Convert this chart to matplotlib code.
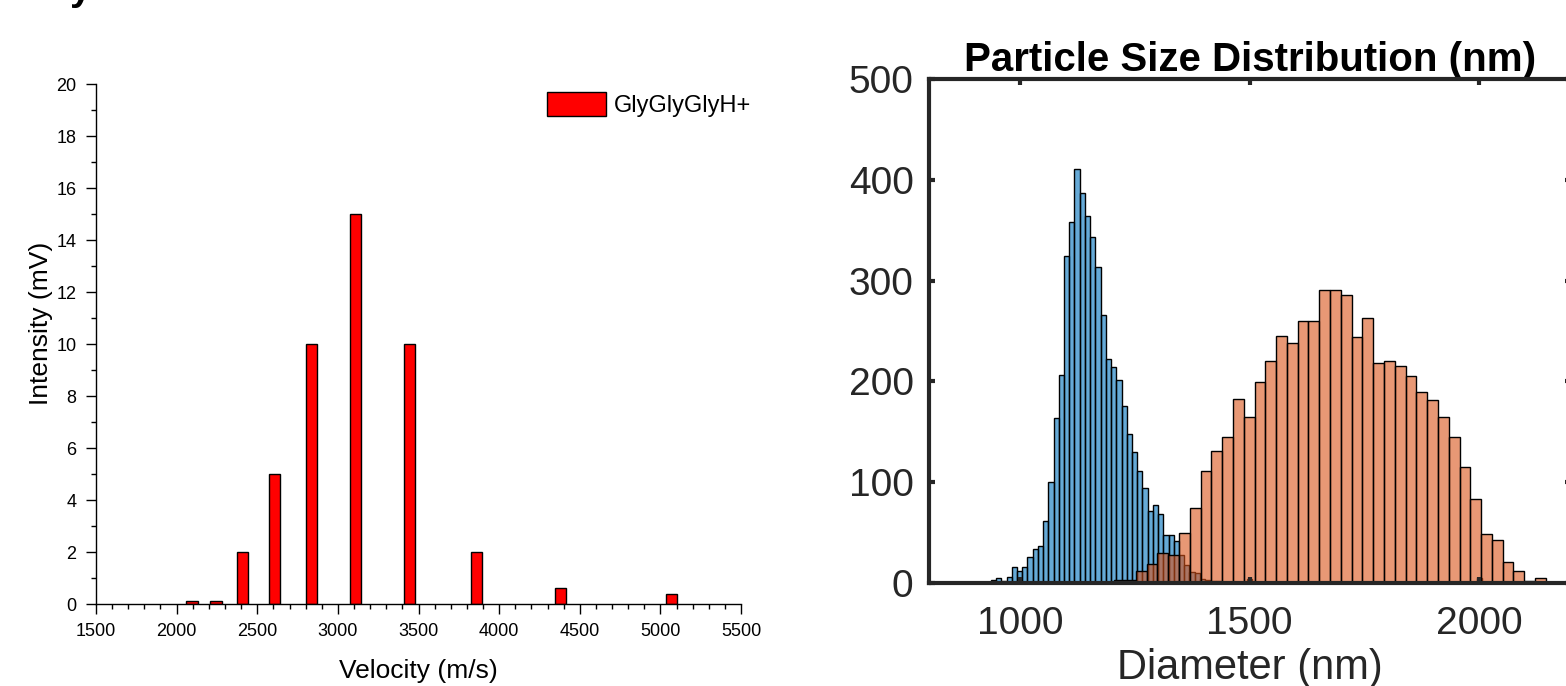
import matplotlib.pyplot as plt
import numpy as np
from matplotlib.ticker import MultipleLocator

# left panel: velocity bars
velocity = [2095, 2245, 2410, 2605, 2835, 3110, 3445, 3860, 4380, 5070]
intensity = [0.1, 0.1, 2, 5, 10, 15, 10, 2, 0.6, 0.4]
series_label = 'GlyGlyGlyH+'

# right panel: particle size histograms (counts per bin)
blue_start, blue_width = 867.0, 11.4
blue_counts = [1, 0, 1, 0, 1, 1, 3, 5, 2, 6,
               16, 12, 16, 26, 33, 36, 61, 100, 164, 206,
               325, 358, 411, 387, 364, 343, 314, 266, 222, 214,
               201, 176, 148, 130, 111, 94, 71, 77, 68, 47,
               47, 41, 28, 18, 11, 10, 4, 3, 2, 2,
               1, 1, 1, 1, 0, 4, 1, 0, 1, 0,
               1, 0, 0, 1, 0, 0, 1, 0, 0, 0,
               1, 0, 0, 0, 1, 0, 0, 0, 0, 1,
               0, 0, 0, 1, 0, 0, 0, 0, 1, 0,
               0, 0, 1, 0, 0, 0, 0, 1, 0, 5,
               0, 1, 0, 0, 0, 1, 0, 0, 0, 1,
               0, 0, 1, 0, 0, 1]
orange_start, orange_width = 1039.8, 23.54
orange_counts = [0, 1, 0, 1, 1, 0, 1,
                 3, 3, 12, 19, 29, 28,
                 49, 74, 111, 131, 145, 182, 165, 199, 220, 245,
                 238, 260, 260, 291, 291, 286, 244, 263, 218, 220,
                 215, 205, 189, 181, 165, 145, 115, 83, 48, 42,
                 21, 12, 2, 5, 1, 1]

plt.rcParams['font.family'] = ['Liberation Sans', 'DejaVu Sans']
fig = plt.figure(figsize=(15.66, 6.86), dpi=100)

# cropped panel letter at the very top
fig.text(70 / 1566, 1.0, 'y', fontsize=28, fontweight='bold', va='baseline')

# ---- left panel ----
ax1 = fig.add_axes([0.0613, 0.1195, 0.4119, 0.758])
ax1.bar(velocity, intensity, width=70, color='red', edgecolor='black',
        linewidth=1.0, label=series_label)
ax1.set_xlim(1500, 5500)
ax1.set_ylim(0, 20)
ax1.xaxis.set_major_locator(MultipleLocator(500))
ax1.xaxis.set_minor_locator(MultipleLocator(100))
ax1.yaxis.set_major_locator(MultipleLocator(2))
ax1.yaxis.set_minor_locator(MultipleLocator(1))
for side in ['top', 'right']:
    ax1.spines[side].set_visible(False)
for side in ['left', 'bottom']:
    ax1.spines[side].set_linewidth(1.0)
ax1.tick_params(which='major', direction='out', length=7, width=1.0,
                labelsize=13, pad=7)
ax1.tick_params(which='minor', direction='out', length=3.5, width=1.0)
ax1.set_xlabel('Velocity (m/s)', fontsize=19)
ax1.set_ylabel('Intensity (mV)', fontsize=19)
ax1.xaxis.set_label_coords(0.5, -0.105)
ax1.yaxis.set_label_coords(-0.066, 0.54)
ax1.legend(loc='upper left', bbox_to_anchor=(0.699, 0.985), frameon=False,
           fontsize=17, handlelength=2.5, handleheight=1.2,
           handletextpad=0.35, borderpad=0, borderaxespad=0)

# ---- right panel ----
dark = '#262626'
ax2 = fig.add_axes([0.5931, 0.1506, 0.4098, 0.7337])
blue_edges = blue_start + blue_width * np.arange(len(blue_counts) + 1)
orange_edges = orange_start + orange_width * np.arange(len(orange_counts) + 1)
ax2.bar(blue_edges[:-1], blue_counts, width=blue_width, align='edge',
        color=(0.0, 0.447, 0.741, 0.6), edgecolor='black', linewidth=1.0)
ax2.bar(orange_edges[:-1], orange_counts, width=orange_width, align='edge',
        color=(0.85, 0.325, 0.098, 0.6), edgecolor='black', linewidth=1.0)
ax2.set_xlim(800, 2200)
ax2.set_ylim(0, 500)
ax2.set_xticks([1000, 1500, 2000])
ax2.set_yticks([0, 100, 200, 300, 400, 500])
for side in ax2.spines.values():
    side.set_linewidth(3)
    side.set_color(dark)
    side.set_zorder(5)
ax2.tick_params(direction='in', top=True, right=True, length=4.5, width=3,
                color=dark, labelcolor=dark, labelsize=28)
ax2.tick_params(axis='y', pad=11)
ax2.tick_params(axis='x', pad=17)
ax2.set_xlabel('Diameter (nm)', fontsize=30, color=dark, labelpad=4)
ax2.set_title('Particle Size Distribution (nm)', fontsize=29,
              fontweight='bold', pad=6)

fig.savefig('out.png', dpi=100)
